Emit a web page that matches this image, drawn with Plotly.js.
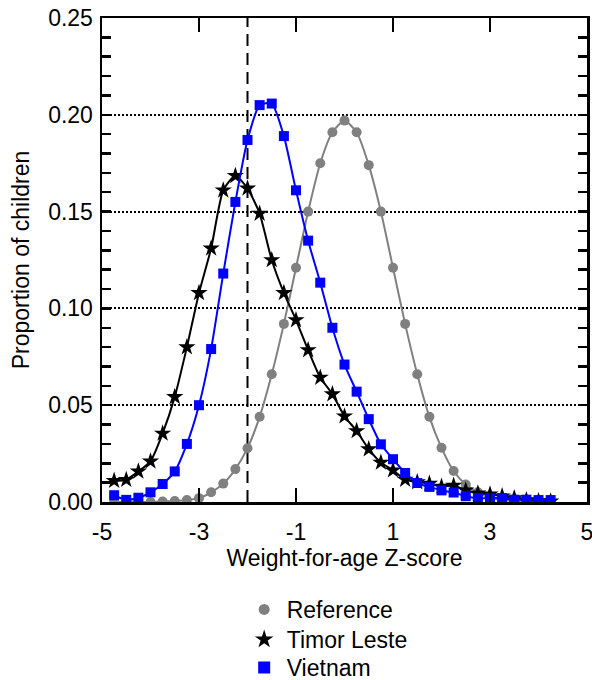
<!DOCTYPE html>
<html>
<head>
<meta charset="utf-8">
<script src="https://cdn.plot.ly/plotly-3.0.1.min.js"></script>
<style>
  html, body { margin: 0; padding: 0; background: #fff; }
  #chart { width: 592px; height: 680px; }
</style>
</head>
<body>
<div id="chart"></div>
<script>
// Z-score grid (x positions of the points)
var zScores = [-4.75, -4.5, -4.25, -4.0, -3.75, -3.5, -3.25, -3.0, -2.75, -2.5, -2.25, -2.0,
               -1.75, -1.5, -1.25, -1.0, -0.75, -0.5, -0.25, 0.0, 0.25, 0.5, 0.75, 1.0,
               1.25, 1.5, 1.75, 2.0, 2.25, 2.5, 2.75, 3.0, 3.25, 3.5, 3.75, 4.0, 4.25];

var referenceValues = [0.000, 0.000, 0.000, 0.000, 0.0002, 0.0005, 0.001, 0.002, 0.005, 0.0095, 0.017, 0.0278,
                       0.044, 0.066, 0.092, 0.121, 0.150, 0.175, 0.191, 0.197, 0.191, 0.174, 0.150, 0.121,
                       0.092, 0.066, 0.044, 0.028, 0.016, 0.009, 0.005, 0.002, 0.001, 0.0005, 0.0002, 0.000, 0.000];

var timorLesteValues = [0.011, 0.0115, 0.0158, 0.021, 0.0354, 0.0543, 0.080, 0.108, 0.131, 0.161, 0.1685, 0.162,
                        0.149, 0.125, 0.108, 0.094, 0.0785, 0.0643, 0.0557, 0.0443, 0.0367, 0.0273, 0.0204, 0.0164,
                        0.0116, 0.0103, 0.0095, 0.008, 0.0085, 0.006, 0.0045, 0.004, 0.003, 0.002, 0.001, 0.0005, 0.0003];

var vietnamValues = [0.0035, 0.0011, 0.0022, 0.005, 0.0093, 0.0158, 0.030, 0.050, 0.079, 0.118, 0.155, 0.187,
                     0.205, 0.2058, 0.189, 0.161, 0.135, 0.1133, 0.090, 0.071, 0.057, 0.0428, 0.0298, 0.0221,
                     0.015, 0.0098, 0.0078, 0.006, 0.0049, 0.003, 0.002, 0.002, 0.002, 0.0012, 0.0012, 0.001, 0.001];

var seriesNames = ['Reference', 'Timor Leste', 'Vietnam'];

var xTickValues = [-5, -3, -1, 1, 3, 5];
var xTickLabels = ['-5', '-3', '-1', '1', '3', '5'];
var yTickValues = [0, 0.05, 0.10, 0.15, 0.20, 0.25];
var yTickLabels = ['0.00', '0.05', '0.10', '0.15', '0.20', '0.25'];
var yMinorTickValues = [0.01, 0.02, 0.03, 0.04, 0.06, 0.07, 0.08, 0.09, 0.11, 0.12, 0.13, 0.14,
                        0.16, 0.17, 0.18, 0.19, 0.21, 0.22, 0.23, 0.24];

var stuntingCutoff = -2;

var FONT = 'Liberation Sans, Arial, sans-serif';

var styles = [
  {color: '#808080', symbol: 'circle', size: 10, legendSize: 11},
  {color: '#000000', symbol: 'star', size: 13, legendSize: 14},
  {color: '#0000ff', symbol: 'square', size: 10, legendSize: 12}
];
var seriesValues = [referenceValues, timorLesteValues, vietnamValues];
var legendIds = ['legend', 'legend2', 'legend3'];
var legendYs = [-0.222, -0.284, -0.342];

var traces = [];
// invisible carrier for the minor-tick axis
traces.push({x: [null], y: [null], type: 'scatter', mode: 'markers', yaxis: 'y2',
             showlegend: false, hoverinfo: 'skip'});
seriesValues.forEach(function (vals, i) {
  var s = styles[i];
  traces.push({
    x: zScores, y: vals, type: 'scatter', mode: 'lines+markers',
    name: seriesNames[i], showlegend: false,
    line: {color: s.color, width: 2, shape: 'spline', smoothing: 0.6},
    marker: {color: s.color, symbol: s.symbol, size: s.size, line: {width: 0}}
  });
});
// legend-only entries (marker only, as in the reference)
seriesValues.forEach(function (vals, i) {
  var s = styles[i];
  traces.push({
    x: [null], y: [null], type: 'scatter', mode: 'markers',
    name: seriesNames[i], showlegend: true, legend: legendIds[i],
    marker: {color: s.color, symbol: s.symbol, size: s.legendSize, line: {width: 0}}
  });
});

function legendSpec(y) {
  return {
    x: 0.288, y: y, xanchor: 'left', yanchor: 'middle',
    orientation: 'v', itemwidth: 35,
    font: {family: FONT, size: 23, color: '#000'},
    bgcolor: 'rgba(0,0,0,0)', borderwidth: 0
  };
}

var layout = {
  width: 592, height: 680,
  margin: {l: 102, r: 5, t: 18, b: 178, autoexpand: false},
  paper_bgcolor: '#ffffff', plot_bgcolor: '#ffffff',
  font: {family: FONT, size: 23, color: '#000'},
  showlegend: true,
  legend: legendSpec(legendYs[0]),
  legend2: legendSpec(legendYs[1]),
  legend3: legendSpec(legendYs[2]),
  xaxis: {
    range: [-5, 5], tickmode: 'array', tickvals: xTickValues, ticktext: xTickLabels,
    ticks: 'inside', ticklen: 14, tickwidth: 2.5, tickcolor: '#000',
    showline: true, linewidth: 2.5, linecolor: '#000', mirror: 'ticks',
    showgrid: false, zeroline: false, ticklabeloverflow: 'allow', ticklabelstandoff: 8,
    tickfont: {family: FONT, size: 23, color: '#000'},
    title: {text: 'Weight-for-age Z-score', font: {family: FONT, size: 23, color: '#000'}, standoff: 5}
  },
  yaxis: {
    range: [0, 0.25], tickmode: 'array', tickvals: yTickValues, ticktext: yTickLabels,
    ticks: 'inside', ticklen: 9, tickwidth: 2.5, tickcolor: '#000',
    showline: true, linewidth: 2.5, linecolor: '#000', mirror: 'ticks',
    showgrid: true, gridcolor: '#000', gridwidth: 2, griddash: '2px,2px', zeroline: false,
    ticklabelstandoff: 2, ticklabeloverflow: 'allow',
    tickfont: {family: FONT, size: 23, color: '#000'},
    title: {text: 'Proportion of children', font: {family: FONT, size: 23, color: '#000'}, standoff: 12}
  },
  yaxis2: {
    overlaying: 'y', side: 'left', anchor: 'x', range: [0, 0.25],
    tickmode: 'array', tickvals: yMinorTickValues, showticklabels: false,
    ticks: 'inside', ticklen: 9, tickwidth: 2.5, tickcolor: '#000',
    showline: true, linewidth: 2.5, linecolor: '#000', mirror: 'ticks',
    showgrid: false, zeroline: false
  },
  shapes: [{
    type: 'line', xref: 'x', yref: 'y', layer: 'below',
    x0: stuntingCutoff, x1: stuntingCutoff, y0: 0, y1: 0.25,
    line: {color: '#000', width: 2, dash: '12px,7px'}
  }]
};

Plotly.newPlot('chart', traces, layout, {displayModeBar: false, staticPlot: true});
</script>
</body>
</html>
